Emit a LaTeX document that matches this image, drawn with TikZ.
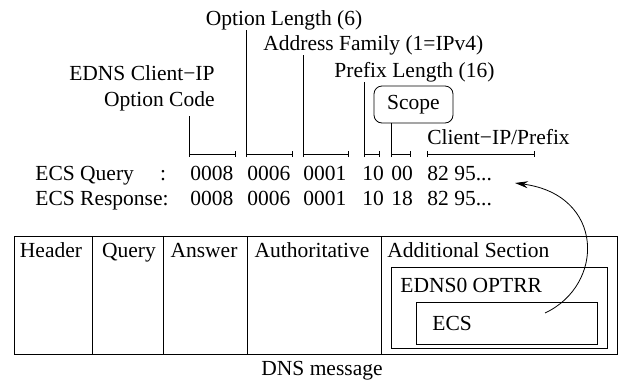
\documentclass[tikz,border=0pt]{standalone}
\usepackage{fontspec}
\setmainfont{Liberation Serif}
\usetikzlibrary{arrows.meta}
\tikzset{
  lbl/.style={inner sep=0pt, anchor=base west, font=\fontsize{21.5}{26}\selectfont},
  fieldbar/.style={{Bar[width=6pt]}-{Bar[width=6pt]}},
  scopebox/.style={draw, rounded corners=8pt, minimum width=79pt, minimum height=37pt,
    inner sep=0pt, font=\fontsize{21.5}{26}\selectfont}
}
\begin{document}
\begin{tikzpicture}[x=1pt,y=-1pt,line width=0.8pt]
  \useasboundingbox (0,0) rectangle (619,381);
  % field brackets
  \coordinate (f1a) at (189,154); \coordinate (f1b) at (236,154);
  \coordinate (f2a) at (246,154); \coordinate (f2b) at (293,154);
  \coordinate (f3a) at (303,154); \coordinate (f3b) at (349,154);
  \coordinate (f4a) at (364,154); \coordinate (f4b) at (380,154);
  \coordinate (f5a) at (391,154); \coordinate (f5b) at (411,154);
  \coordinate (f6a) at (427,154); \coordinate (f6b) at (535,154);
  \foreach \i in {1,...,6} \draw[fieldbar] (f\i a) -- (f\i b);
  % field labels
  \node[lbl, anchor=base] (optlen) at (284,25) {Option Length (6)};
  \node[lbl] (addrfam) at (263,50) {Address Family (1=IPv4)};
  \node[lbl] (pfxlen) at (334,77) {Prefix Length (16)};
  \node[lbl, anchor=east, align=right] (optcode) at (215,88) {EDNS Client−IP\\Option Code};
  \node[scopebox] (scope) at (413.5,104.5) {Scope};
  \node[lbl] (clientip) at (427,144) {Client−IP/Prefix};
  \draw[shorten <=5pt] (optcode.south -| f1a) -- (f1a);
  \draw (optlen.south -| f2a) -- (f2a);
  \draw (addrfam.south -| f3a) -- (f3a);
  \draw (pfxlen.south -| f4a) -- (f4a);
  \draw (scope.south -| f5a) -- (f5a);
  % query / response
  \node[lbl] (qname) at (35,180) {ECS Query};
  \node[lbl, anchor=base] (qcolon) at (163,180) {:};
  \node[lbl] (rname) at (35,205) {ECS Response:};
  \foreach \x/\q/\r [count=\i] in {190/0008/0008, 247/0006/0006, 303/0001/0001,
      362/10/10, 391/00/18} {
    \node[lbl] (q\i) at (\x,180) {\q};
    \node[lbl] (r\i) at (\x,205) {\r};
  }
  \node[lbl] (q6) at (427,180) {82 95...};
  \node[lbl] (r6) at (427,205) {82 95...};
  % DNS message
  \draw (14,236) rectangle (617,354);
  \foreach \x in {92,163,247,381} \draw (\x,236) -- (\x,354);
  \foreach \x/\t [count=\i] in {51/Header, 129/Query, 204/Answer, 312/Authoritative}
    \node[lbl, anchor=base] (sec\i) at (\x,257) {\t};
  \node[lbl] (addsec) at (387,257) {Additional Section};
  \draw (391,267) rectangle (607,348);
  \node[lbl] (optrr) at (400,292) {EDNS0 OPTRR};
  \draw (416,302) rectangle (597,344);
  \node[lbl] (ecs) at (432,330) {ECS};
  \node[lbl, anchor=base] (dnsmsg) at (322,375) {DNS message};
  \coordinate (ecsref) at (545,313);
  \coordinate (qtip) at (515,183);
  \draw[-{Stealth[length=13pt,width=7pt]}] (ecsref) .. controls (605,285) and (605,195) .. (qtip);
\end{tikzpicture}
\end{document}
